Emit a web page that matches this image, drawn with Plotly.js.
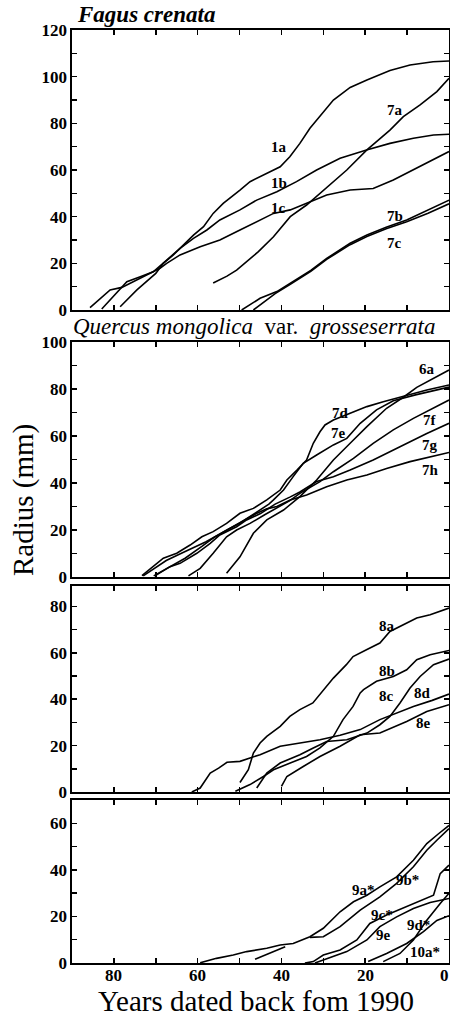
<!DOCTYPE html>
<html><head><meta charset="utf-8">
<script src="https://cdn.plot.ly/plotly-3.0.1.min.js"></script>
<style>html,body{margin:0;padding:0;background:#fff;}#chart{width:450px;height:1016px;}</style>
</head><body><div id="chart"></div>
<script>
// ---------- DATA (years back from 1990, radius mm) ----------
// Panel 1: Fagus crenata
const s1a_x = [78.5,74.5,70.0,68.2,65.8,63.4,61.0,58.6,56.3,53.9,51.5,49.9,47.5,43.5,40.3,38.0,35.6,33.2,30.8,27.6,23.6,19.6,14.1,9.3,3.8,0];
const s1a_y = [1.4,8.6,15.7,20,23.6,27.9,32.1,35.7,41.4,45.7,49,51.4,55,58.6,61.4,65.7,71.4,77.9,82.9,90,95.4,98.6,102.6,105,106.4,106.7];
const s1b_x = [82.9,79.7,76.9,73.7,70.6,67.4,64.2,61.0,57.8,54.7,49.9,45.9,41.1,36.4,31.6,26.0,19.7,14.1,8.5,3.7,0];
const s1b_y = [0.4,6.4,12.1,14.3,16.4,21.4,26.4,30.7,34.3,38.6,42.9,47.1,50.7,55,60,65,68.6,71.4,73.6,75,75.3];
const s1c_x = [85.7,83.5,80.9,78.1,73.0,69.0,67.4,64.2,59.4,54.7,49.9,45.9,41.9,37.9,34.0,29.2,23.6,18.1,13.3,8.5,3.7,0];
const s1c_y = [1,4.5,8.6,9.7,14.3,17.9,20,23.6,27.1,30,34.3,37.9,41.4,42.9,45.7,49.3,51.4,52.1,55.7,60,64.3,67.9];
const s7a_x = [56.3,53.0,50.7,48.0,45.5,41.9,37.9,34.0,30.0,24.4,19.6,14.1,10.9,6.9,2.9,0];
const s7a_y = [11.6,14.5,17.1,21,25,31.4,40,45,51.4,60,68.6,77.1,82.9,87.9,93.6,99.3];
const s7b_x = [49.5,47.0,45.1,41.1,37.9,33.0,29.2,23.6,19.6,15.0,10.1,5.0,0];
const s7b_y = [0,3,5,7.9,11.4,17,22.1,28.6,32.1,35.5,38.6,43,47.1];
const s7c_x = [46.7,44.0,41.5,37.9,33.0,29.2,23.6,19.6,15.0,10.1,5.0,0];
const s7c_y = [0,3.5,7,11,16.6,21.7,28,31.5,34.8,37.8,41.5,45.5];
// Panel 2: Quercus mongolica var. grosseserrata
const s6a_x = [53.1,49.9,46.7,43.5,39.5,35.6,31.6,27.6,23.6,19.6,14.9,10.9,7.7,3.7,0];
const s6a_y = [1.6,8.6,18.6,24.3,28.5,34.2,41.3,49.8,56.9,64,71.8,76.5,80.7,84.6,88.1];
const s7d_x = [73.3,70.6,68.2,65.0,61.8,59.0,56.3,53.1,49.9,46.7,43.5,40.3,38.7,36.3,34.0,32.4,30.8,29.6,27.6,23.6,19.6,15.7,11.7,5.3,0];
const s7d_y = [0.6,4.4,8,10.1,13.6,17.1,19.3,22.8,27.1,29.2,32.8,37,41.3,45.5,49.8,56.9,61.8,64.7,66.8,69.7,72.5,74.6,76.5,79.6,81.7];
const s7e_x = [70.5,67.0,63.0,59.0,56.0,53.0,49.9,46.0,43.0,41.9,39.5,37.2,34.8,31.6,27.6,24.4,21.2,17.3,13.3,8.0,4.0,0];
const s7e_y = [0.5,4,8,13,17,20,23,27.5,31,32.8,37,42.7,48.4,51.9,56.2,59,65.4,71.1,75,77.5,79,80.8];
const s7f_x = [62.2,59.4,56.3,53.1,50.7,47.5,44.0,41.0,38.0,35.6,30.8,27.6,22.8,18.1,13.3,8.5,4.5,0];
const s7f_y = [0.5,3.7,10.1,17.1,20,22.8,26.5,29.5,32.5,35.6,40.6,44.8,50.5,56.9,62.6,67.5,71.1,75.3];
const s7g_x = [70.2,66.6,64.2,60.2,57.0,54.7,50.7,48.3,45.0,41.5,38.0,35.6,31.6,27.6,23.6,18.1,11.7,5.3,0];
const s7g_y = [0.5,4.4,5.8,10.1,14.3,17.9,21.4,24.3,27,31,34,36.2,40.6,42.7,45.5,49.8,55.4,61.1,65.4];
const s7h_x = [73.0,70.5,67.5,64.0,61.0,58.0,55.0,52.0,49.0,46.0,43.5,41.1,37.9,34.0,29.2,24.4,19.6,14.9,9.3,4.5,0];
const s7h_y = [0.5,3.5,7,10,12.5,15,18,21,24,27,29,30,32.8,34.9,38.4,41.3,43.4,46.2,49.1,51.2,53];
// Panel 3
const s8a_x = [49.9,47.9,46.7,45.1,43.5,40.3,38.0,35.6,32.5,30.0,27.6,24.5,22.9,19.7,16.5,14.1,10.9,7.7,4.5,0];
const s8a_y = [4.1,9.6,16.8,21.1,24,28.3,32.6,35.5,38.4,44.1,49.1,54.9,58.4,61.3,64.2,69.2,72.1,75,76.4,79.3];
const s8b_x = [51.0,47.5,44.3,41.9,37.9,34.0,30.8,27.6,25.3,22.9,21.2,20.4,17.3,13.3,10.1,7.7,4.5,0];
const s8b_y = [0.3,3.2,6.7,9.6,12.5,15.3,19,24,31.2,36.9,42.7,44.1,47.7,49.8,52.7,57,59.2,61];
const s8c_x = [45.9,43.5,40.3,35.6,32.4,29.2,24.4,19.6,16.5,14.1,11.7,9.3,6.9,3.7,0];
const s8c_y = [1.7,8.2,12.5,16.1,19,21.8,22.5,25.4,29,32.6,38.4,44.8,49.8,54.9,57.3];
const s8d_x = [61.4,59.4,57.0,55.0,53.0,49.9,47.5,45.1,40.3,35.0,30.8,26.0,21.2,16.5,12.0,8.5,4.0,0];
const s8d_y = [0,1.7,8.2,10.3,12.8,13.2,14.7,16.1,19.7,21.2,22.5,24.5,26.9,31.2,34.5,36.9,39.5,42.2];
const s8e_x = [40.0,38.7,34.8,30.8,26.0,21.2,16.5,10.1,5.3,0];
const s8e_y = [2.4,6.7,11,15.3,19.7,24.7,25.4,30.4,34.7,37.6];
// Panel 4
const s9a_x = [59.4,55.5,51.5,48.3,43.5,40.3,37.2,33.2,30.0,26.0,22.8,19.6,16.5,12.5,8.5,5.3,2.5,0];
const s9a_y = [0.1,2,3.4,4.9,6.3,7.7,8.4,11.3,14.9,22,26.3,29.1,32.7,37,44.1,51.3,55.5,59.1];
const s9b_x = [46.3,39.1,null,33.2,30.0,26.0,21.2,16.5,12.5,8.5,5.3,2.9,0];
const s9b_y = [1.6,7,null,11,11.3,15.6,22.7,28.4,34.2,41.3,48.4,52.7,57.7];
const s9c_x = [34.4,32.4,30.0,26.0,22.0,18.9,14.9,8.5,3.7,2.1,0];
const s9c_y = [0,0.6,3.4,5.6,9.9,17,20.6,25.6,29.1,38.4,42];
const s9e_x = [32.0,30.0,27.6,24.4,19.6,16.5,12.5,8.5,4.5,0];
const s9e_y = [0,1.3,3,4.9,9.9,15.6,19.8,23.4,26,27.7];
const s9d_x = [15.7,11.7,8.5,5.3,2.1,0];
const s9d_y = [0.6,4.1,9.9,18.4,25.6,29.9];
const s10a_x = [19.3,14.9,10.1,6.1,2.9,0];
const s10a_y = [0.6,4.1,8.4,13.5,18.3,20.3];

// tick labels
const xTickVals = [0,10,20,30,40,50,60,70,80,90];
const xTickText = ['0','','20','','40','','60','','80',''];
const yTickVals1 = [0,10,20,30,40,50,60,70,80,90,100,110,120];
const yTickText1 = ['0','','20','','40','','60','','80','','100','','120'];
const yTickVals2 = [0,10,20,30,40,50,60,70,80,90,100];
const yTickText2 = ['0','','20','','40','','60','','80','','100'];
const yTickVals3 = [0,10,20,30,40,50,60,70,80];
const yTickText3 = ['0','','20','','40','','60','','80'];
const yTickVals4 = [0,10,20,30,40,50,60,70];
const yTickText4 = ['0','','20','','40','','60',''];

// titles
const panelTitles = ['<b><i>Fagus crenata</i></b>', '<i>Quercus mongolica</i>\u00a0\u00a0var.\u00a0\u00a0<i>grosseserrata</i>'];
const yTitle = 'Radius (mm)';
const xTitle = 'Years dated back fom 1990';

// ---------- BUILD ----------
const series = [
  [s1a_x,s1a_y,1,'1a'],[s1b_x,s1b_y,1,'1b'],[s1c_x,s1c_y,1,'1c'],
  [s7a_x,s7a_y,1,'7a'],[s7b_x,s7b_y,1,'7b'],[s7c_x,s7c_y,1,'7c'],
  [s6a_x,s6a_y,2,'6a'],[s7d_x,s7d_y,2,'7d'],[s7e_x,s7e_y,2,'7e'],
  [s7f_x,s7f_y,2,'7f'],[s7g_x,s7g_y,2,'7g'],[s7h_x,s7h_y,2,'7h'],
  [s8a_x,s8a_y,3,'8a'],[s8b_x,s8b_y,3,'8b'],[s8c_x,s8c_y,3,'8c'],
  [s8d_x,s8d_y,3,'8d'],[s8e_x,s8e_y,3,'8e'],
  [s9a_x,s9a_y,4,'9a*'],[s9b_x,s9b_y,4,'9b*'],[s9c_x,s9c_y,4,'9c*'],
  [s9e_x,s9e_y,4,'9e'],[s9d_x,s9d_y,4,'9d*'],[s10a_x,s10a_y,4,'10a*']
];
const traces = series.map(s => ({
  x: s[0], y: s[1], type: 'scatter', mode: 'lines', name: s[3],
  xaxis: s[2] === 1 ? 'x' : 'x' + s[2], yaxis: s[2] === 1 ? 'y' : 'y' + s[2],
  line: {color: '#000', width: 1.6}, hoverinfo: 'skip', showlegend: false
}));

// label positions (data coords) per series
const labelPos = {
  '1a':[40.7,70,1],'1b':[40.7,54.3,1],'1c':[40.7,43.6,1],'7a':[12.9,85.7,1],'7b':[12.9,40.3,1],'7c':[12.9,28.6,1],
  '6a':[5.3,88.5,2],'7d':[26,69.7,2],'7e':[26.4,61.1,2],'7f':[4.5,66.8,2],'7g':[4.5,56.2,2],'7h':[4.5,45.5,2],
  '8a':[14.9,71.4,3],'8b':[14.9,52,3],'8c':[14.9,41.5,3],'8d':[6.3,42.7,3],'8e':[6.2,29.7,3],
  '9a*':[20.5,31.3,4],'9b*':[10,35.6,4],'9c*':[16.1,20.6,4],'9e':[15.7,12,4],'9d*':[7.3,16.3,4],'10a*':[5.7,4.8,4]
};

const FONT = 'Liberation Serif, Times New Roman, serif';
const W = 450, H = 1016, ML = 72, MR = 1, MT = 30, MB = 53;
const PW = W - ML - MR, PH = H - MT - MB;
const px2x = p => (p - ML) / PW;
const py2y = p => (H - MB - p) / PH;
const bold = a => a.map(t => t === '' ? '' : '<b>' + t + '</b>');

const annotations = [];
Object.keys(labelPos).forEach(k => {
  const [lx, ly, p] = labelPos[k];
  annotations.push({x: lx, y: ly, xref: p === 1 ? 'x' : 'x' + p, yref: p === 1 ? 'y' : 'y' + p,
    text: '<b>' + k + '</b>', showarrow: false, font: {family: FONT, size: 15, color: '#000'}});
});
// bottom x tick labels, positioned through the x4 axis
xTickVals.forEach((v, i) => {
  if (xTickText[i] === '') return;
  const edge = (v === 0);
  annotations.push({x: v, y: py2y(976), xref: 'x4', yref: 'paper', xanchor: edge ? 'right' : 'center', yanchor: 'middle',
    xshift: edge ? 2 : 0,
    text: '<b>' + xTickText[i] + '</b>', showarrow: false, font: {family: FONT, size: 17, color: '#000'}});
});
annotations.push({x: px2x(75), y: py2y(15), xref: 'paper', yref: 'paper', xanchor: 'left', yanchor: 'middle',
  text: panelTitles[0], showarrow: false, font: {family: FONT, size: 23, color: '#000'}});
annotations.push({x: px2x(71), y: py2y(326), xref: 'paper', yref: 'paper', xanchor: 'left', yanchor: 'middle',
  text: panelTitles[1], showarrow: false, font: {family: FONT, size: 23, color: '#000'}});
annotations.push({x: px2x(23), y: py2y(500), xref: 'paper', yref: 'paper', xanchor: 'center', yanchor: 'middle',
  text: yTitle, textangle: -90, showarrow: false, font: {family: FONT, size: 29, color: '#000'}});
annotations.push({x: px2x(256), y: py2y(1001), xref: 'paper', yref: 'paper', xanchor: 'center', yanchor: 'middle',
  text: xTitle, showarrow: false, font: {family: FONT, size: 29, color: '#000'}});

const tickFont = {family: FONT, size: 17, color: '#000'};
function xax() {
  return {range: [90, 0], domain: [0, 1], tickmode: 'array', tickvals: xTickVals, ticktext: xTickText,
    ticks: 'inside', ticklen: 5, tickwidth: 1.5, tickcolor: '#000', showticklabels: false,
    showline: true, linewidth: 1.6, linecolor: '#000', mirror: 'ticks', showgrid: false, zeroline: false, fixedrange: true};
}
function yax(range, dom, tv, tt, anchor) {
  return {range: range, domain: dom, anchor: anchor, tickmode: 'array', tickvals: tv, ticktext: bold(tt),
    ticks: 'inside', ticklen: 5, tickwidth: 1.5, tickcolor: '#000', tickfont: tickFont, ticklabelstandoff: 0,
    showline: true, linewidth: 1.6, linecolor: '#000', mirror: 'ticks', showgrid: false, zeroline: false, fixedrange: true};
}
const d1 = [py2y(310), py2y(30)], d2 = [py2y(577), py2y(342)], d3 = [py2y(792), py2y(586)], d4 = [py2y(963), py2y(800)];

const layout = {
  width: W, height: H, margin: {l: ML, r: MR, t: MT, b: MB}, paper_bgcolor: '#fff', plot_bgcolor: '#fff',
  font: {family: FONT, color: '#000'}, showlegend: false,
  xaxis: Object.assign(xax(), {anchor: 'y'}),
  xaxis2: Object.assign(xax(), {anchor: 'y2'}),
  xaxis3: Object.assign(xax(), {anchor: 'y3'}),
  xaxis4: Object.assign(xax(), {anchor: 'y4'}),
  yaxis: yax([0, 120], d1, yTickVals1, yTickText1, 'x'),
  yaxis2: yax([0, 100], d2, yTickVals2, yTickText2, 'x2'),
  yaxis3: yax([0, 88.8], d3, yTickVals3, yTickText3, 'x3'),
  yaxis4: yax([0, 70], d4, yTickVals4, yTickText4, 'x4'),
  annotations: annotations
};
Plotly.newPlot('chart', traces, layout, {staticPlot: true, displayModeBar: false});
</script></body></html>
